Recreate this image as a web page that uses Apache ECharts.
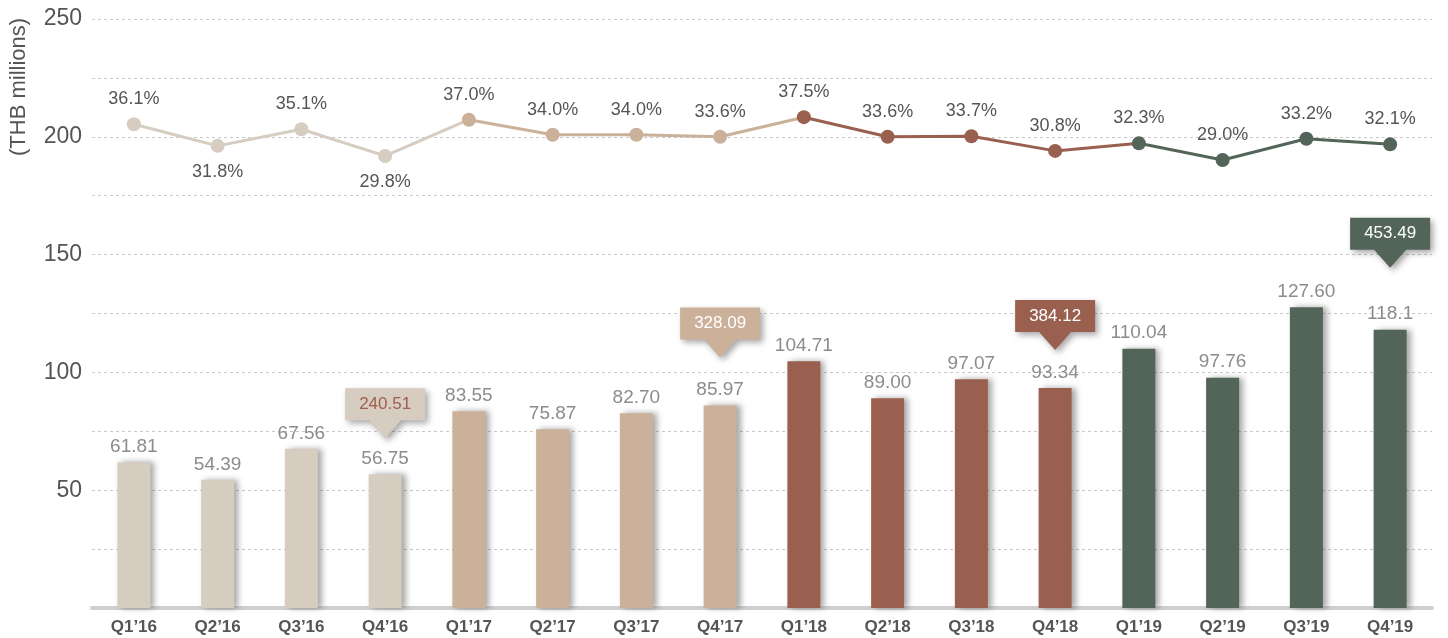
<!DOCTYPE html>
<html>
<head>
<meta charset="utf-8">
<script src="https://cdn.jsdelivr.net/npm/echarts@6/dist/echarts.min.js"></script>
<style>
  html, body { margin: 0; padding: 0; background: #fff; }
  #chart { width: 1448px; height: 638px; }
</style>
</head>
<body>
<div id="chart"></div>
<script>
// quarters on the x axis
var quarters = ["Q1’16", "Q2’16", "Q3’16", "Q4’16", "Q1’17", "Q2’17", "Q3’17", "Q4’17",
  "Q1’18", "Q2’18", "Q3’18", "Q4’18", "Q1’19", "Q2’19", "Q3’19", "Q4’19"];
// quarterly values (THB millions), kept as text so "89.00" / "118.1" print as shown
var quarterValues = ["61.81", "54.39", "67.56", "56.75", "83.55", "75.87", "82.70", "85.97",
  "104.71", "89.00", "97.07", "93.34", "110.04", "97.76", "127.60", "118.1"];
// margin %
var marginPct = [36.1, 31.8, 35.1, 29.8, 37.0, 34.0, 34.0, 33.6,
  37.5, 33.6, 33.7, 30.8, 32.3, 29.0, 33.2, 32.1];
// yearly totals shown in the callouts
var yearTotals = ["240.51", "328.09", "384.12", "453.49"];
var yAxisTicks = [50, 100, 150, 200, 250];

// styling
var yearColors = ["#d6ccc0", "#cbb09a", "#9a604f", "#536459"];
var calloutText = ["#a0604f", "#ffffff", "#ffffff", "#ffffff"];
var calloutLift = [36, 48, 38, 62];
var labelBelow = [1, 3];
var font = "'Liberation Sans', Arial, sans-serif";

var myChart = echarts.init(document.getElementById("chart"));

var barData = quarterValues.map(function (v, i) {
  return { value: v, itemStyle: { color: yearColors[Math.floor(i / 4)] } };
});

var lineData = marginPct.map(function (v, i) {
  var item = { value: v };
  if (labelBelow.indexOf(i) >= 0) {
    item.label = { position: "bottom", distance: 10 };
  }
  return item;
});

var callouts = yearTotals.map(function (t, k) {
  var idx = k * 4 + 3;
  return {
    coord: [idx, Number(quarterValues[idx])],
    value: t,
    symbol: "path://M0,0 L80,0 L80,32 L56,32 L40,50 L24,32 L0,32 Z",
    symbolSize: [80, 50],
    symbolOffset: [0, -(25 + calloutLift[k])],
    itemStyle: { color: yearColors[k] },
    label: { color: calloutText[k] }
  };
});

var option = {
  animation: false,
  grid: { left: 92, right: 16, top: 19, bottom: 30 },
  graphic: [
    {
      type: "text",
      x: 8,
      y: 156,
      rotation: Math.PI / 2,
      style: {
        text: "(THB millions)",
        font: "22px " + font,
        fill: "#555"
      }
    }
  ],
  xAxis: {
    type: "category",
    data: quarters,
    axisLine: { lineStyle: { color: "#cfcfcf", width: 4 } },
    axisTick: { show: false },
    axisLabel: {
      color: "#555",
      fontSize: 17,
      fontWeight: "bold",
      margin: 11,
      fontFamily: font
    }
  },
  yAxis: [
    {
      type: "value",
      min: 0,
      max: 250,
      interval: 25,
      axisLine: { show: false },
      axisTick: { show: false },
      axisLabel: {
        color: "#555",
        fontSize: 23,
        margin: 10,
        fontFamily: font,
        formatter: function (v) {
          return yAxisTicks.indexOf(v) >= 0 ? String(v) : "";
        }
      },
      splitLine: { lineStyle: { color: "#c8c8c8", type: [3, 3], width: 1 } }
    },
    {
      type: "value",
      min: -60,
      max: 57,
      show: false,
      splitLine: { show: false }
    }
  ],
  visualMap: {
    type: "piecewise",
    show: false,
    dimension: 0,
    seriesIndex: 1,
    pieces: [
      { gte: 0, lt: 4, color: yearColors[0] },
      { gte: 4, lt: 8, color: yearColors[1] },
      { gte: 8, lt: 12, color: yearColors[2] },
      { gte: 12, lt: 16, color: yearColors[3] }
    ]
  },
  series: [
    {
      name: "value",
      type: "bar",
      barWidth: 33,
      data: barData,
      itemStyle: {
        shadowColor: "rgba(0,0,0,0.35)",
        shadowBlur: 6,
        shadowOffsetX: 4,
        shadowOffsetY: 0
      },
      label: {
        show: true,
        position: "top",
        distance: 6,
        color: "#8c8c8c",
        fontSize: 19,
        fontFamily: font,
        formatter: function (p) {
          return p.data.value;
        }
      },
      markPoint: {
        itemStyle: {
          shadowColor: "rgba(0,0,0,0.35)",
          shadowBlur: 6,
          shadowOffsetX: 3,
          shadowOffsetY: 3
        },
        label: {
          show: true,
          position: ["50%", 16],
          align: "center",
          verticalAlign: "middle",
          fontSize: 17,
          fontFamily: font,
          formatter: function (p) {
            return p.value;
          }
        },
        data: callouts
      }
    },
    {
      name: "margin",
      type: "line",
      yAxisIndex: 1,
      data: lineData,
      symbol: "circle",
      symbolSize: 14,
      lineStyle: { width: 3 },
      label: {
        show: true,
        position: "top",
        distance: 9,
        color: "#555",
        fontSize: 18,
        fontFamily: font,
        formatter: function (p) {
          return p.value.toFixed(1) + "%";
        }
      }
    }
  ]
};

myChart.setOption(option);
</script>
</body>
</html>
